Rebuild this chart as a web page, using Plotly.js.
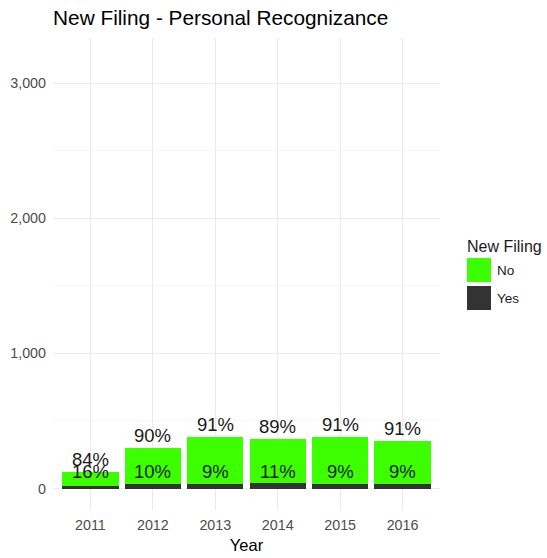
<!DOCTYPE html>
<html><head><meta charset="utf-8">
<script src="https://cdn.plot.ly/plotly-3.0.1.min.js"></script>
<style>body{margin:0;background:#fff}#c{width:547px;height:558px}</style>
</head><body><div id="c"></div>
<script>
var years = ["2011","2012","2013","2014","2015","2016"];
var seriesNames = ["No","Yes"];
var noCounts = [102, 270, 345, 329, 345, 323];
var yesCounts = [20, 30, 34, 41, 34, 32];
var noPct = ["84%","90%","91%","89%","91%","91%"];
var yesPct = ["16%","10%","9%","11%","9%","9%"];
var colors = {No: "#3CFF00", Yes: "#333333"};
var yesLabelY = 126;

var traces = [
  {type:"bar", x:years, y:yesCounts, name:seriesNames[1], marker:{color:colors.Yes, line:{width:0}}, width:0.9, showlegend:false, hoverinfo:"none"},
  {type:"bar", x:years, y:noCounts, name:seriesNames[0], marker:{color:colors.No, line:{width:0}}, width:0.9, showlegend:false, hoverinfo:"none"}
];

var ann = [];
var font = "Liberation Sans, Arial, sans-serif";
years.forEach(function(yr,i){
  var tot = noCounts[i] + yesCounts[i];
  ann.push({x:i, y:tot, xref:"x", yref:"y", text:noPct[i], showarrow:false, yanchor:"middle", yshift:12.5, font:{family:font, size:18.5, color:"#1a1a1a"}});
  ann.push({x:i, y:yesLabelY, xref:"x", yref:"y", text:yesPct[i], showarrow:false, yanchor:"middle", font:{family:font, size:18.5, color:"#1a1a1a"}});
});

// legend (custom, ggplot style)
var pl = 53, pw = 387, pt = 38, ph = 472;
function px2x(p){return (p-pl)/pw;}
function py2y(p){return (pt+ph-p)/ph;}
ann.push({xref:"paper", yref:"paper", x:px2x(465), y:py2y(246), text:"New Filing", showarrow:false, xanchor:"left", yanchor:"middle", font:{family:font, size:16, color:"#1a1a1a"}});
var shapes = [];
seriesNames.forEach(function(s,k){
  var top = 258 + k*28;
  shapes.push({type:"rect", xref:"paper", yref:"paper", x0:px2x(467), x1:px2x(491), y0:py2y(top), y1:py2y(top+24), fillcolor:colors[s], line:{width:0}});
  ann.push({xref:"paper", yref:"paper", x:px2x(495), y:py2y(top+12), text:s, showarrow:false, xanchor:"left", yanchor:"middle", font:{family:font, size:13.5, color:"#1a1a1a"}});
});

var layout = {
  width:547, height:558,
  margin:{l:53, r:107, t:38, b:48},
  paper_bgcolor:"#fff", plot_bgcolor:"#fff",
  barmode:"stack", bargap:0.1,
  font:{family:font, color:"#4D4D4D"},
  title:{text:"New Filing - Personal Recognizance", x:0.097, xref:"container", xanchor:"left", y:1-18/558, yref:"container", yanchor:"middle", font:{family:font, size:20.8, color:"#000"}},
  xaxis:{type:"category", range:[-0.6,5.6], showgrid:true, gridcolor:"#EBEBEB", gridwidth:1.1, zeroline:false, showline:false, ticks:"", ticklabelstandoff:5, tickfont:{size:14.3, color:"#4D4D4D"}, title:{text:"Year", font:{size:16.5, color:"#000"}, standoff:7}, fixedrange:true},
  yaxis:{range:[-159, 3334], tickvals:[0,1000,2000,3000], ticktext:["0","1,000","2,000","3,000"], showgrid:true, gridcolor:"#EBEBEB", gridwidth:1.1, zeroline:false, showline:false, ticks:"", ticklabelstandoff:6, tickfont:{size:14.3, color:"#4D4D4D"}, minor:{tickvals:[500,1500,2500], showgrid:true, gridcolor:"#F2F2F2", gridwidth:0.6}, fixedrange:true},
  annotations:ann, shapes:shapes, showlegend:false
};
Plotly.newPlot("c", traces, layout, {displayModeBar:false, staticPlot:true});
</script></body></html>
